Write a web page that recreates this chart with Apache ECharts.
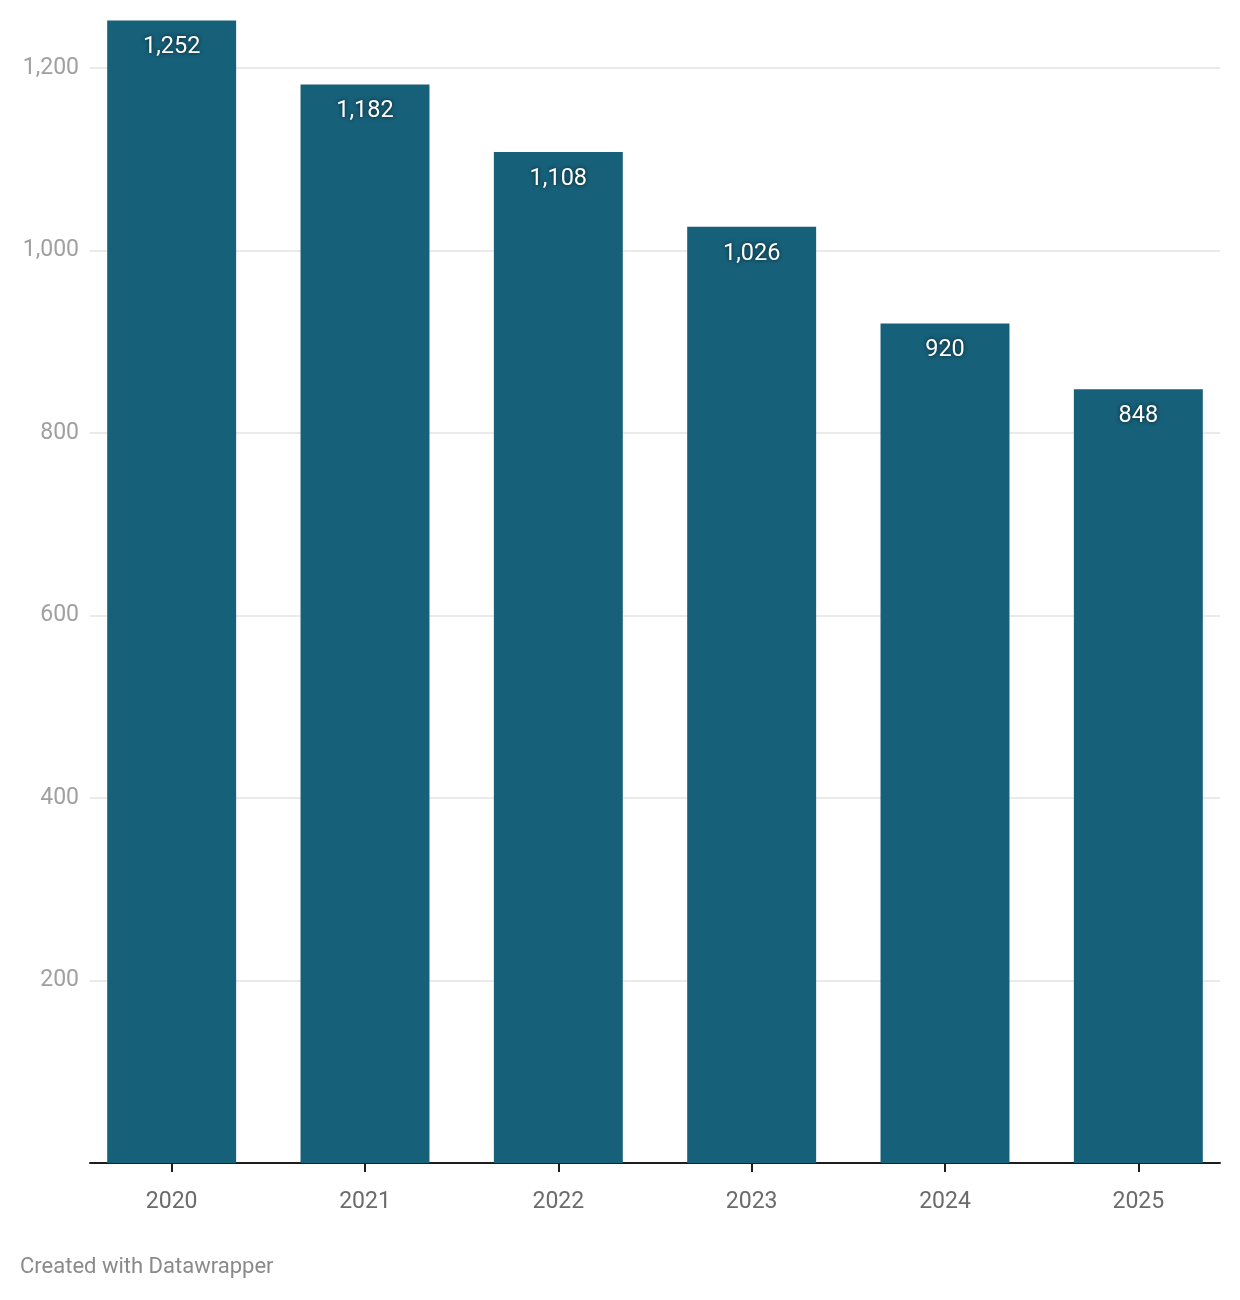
<!DOCTYPE html>
<html><head><meta charset="utf-8">
<script src="https://cdn.jsdelivr.net/npm/echarts@6/dist/echarts.min.js"></script>
<style>html,body{margin:0;padding:0;background:#fff;}#c{width:1240px;height:1300px;}</style>
</head><body><div id="c"></div>
<script>
const categories = ['2020','2021','2022','2023','2024','2025'];
const values = [1252, 1182, 1108, 1026, 920, 848];
const yTicks = [0, 200, 400, 600, 800, 1000, 1200];

const chart = echarts.init(document.getElementById('c'), null, {renderer:'canvas'});
const FONT = 'Roboto';
const yMax = 1252;
const baseY = 1163, pxPerUnit = 1095/1200;
const gridTop = baseY - yMax*pxPerUnit;
const gridBottom = 1300 - baseY;
const lineColors = yTicks.map(() => '#e3e3e3').concat(['rgba(0,0,0,0)']);
chart.setOption({
  animation:false,
  backgroundColor:'#fff',
  textStyle:{fontFamily:FONT},
  grid:[
    {left:90, right:20, top:gridTop, bottom:gridBottom},
    {left:75, right:5, top:gridTop, bottom:gridBottom}
  ],
  xAxis:[
    {type:'category', gridIndex:0, data:categories,
     axisLine:{show:true, lineStyle:{color:'#1d1d1d', width:2}},
     axisTick:{show:false}, axisLabel:{show:false}, splitLine:{show:false}},
    {type:'category', gridIndex:1, data:categories,
     axisLine:{show:false},
     axisTick:{show:true, alignWithLabel:true, length:9, lineStyle:{color:'#1d1d1d', width:2}},
     axisLabel:{color:'#6b6b6b', fontSize:23, fontFamily:FONT, margin:28}}
  ],
  yAxis:[
    {type:'value', gridIndex:0, min:0, max:yMax, interval:200,
     axisLine:{show:false}, axisTick:{show:false},
     axisLabel:{color:'#a0a0a0', fontSize:23, fontFamily:FONT, margin:11,
       formatter:v => (v===0 || yTicks.indexOf(v)<0) ? '' : v.toLocaleString('en-US')},
     splitLine:{show:true, lineStyle:{color:lineColors, width:1.5}}},
    {type:'value', gridIndex:1, min:0, max:yMax, interval:200, show:false,
     splitLine:{show:false}}
  ],
  series:[{
    type:'bar', xAxisIndex:1, yAxisIndex:1, data:values,
    barCategoryGap:'33.3%',
    itemStyle:{color:'#176079'},
    label:{show:true, position:'insideTop', distance:15, color:'#fff', fontSize:23.5, fontFamily:FONT,
      textShadowColor:'rgba(0,0,0,0.7)', textShadowBlur:4,
      formatter:p => p.value.toLocaleString('en-US')}
  }],
  graphic:[{type:'text', left:20, top:1256, style:{text:'Created with Datawrapper', fill:'#8a8a8a', font:'22px Roboto'}}]
});
</script></body></html>
